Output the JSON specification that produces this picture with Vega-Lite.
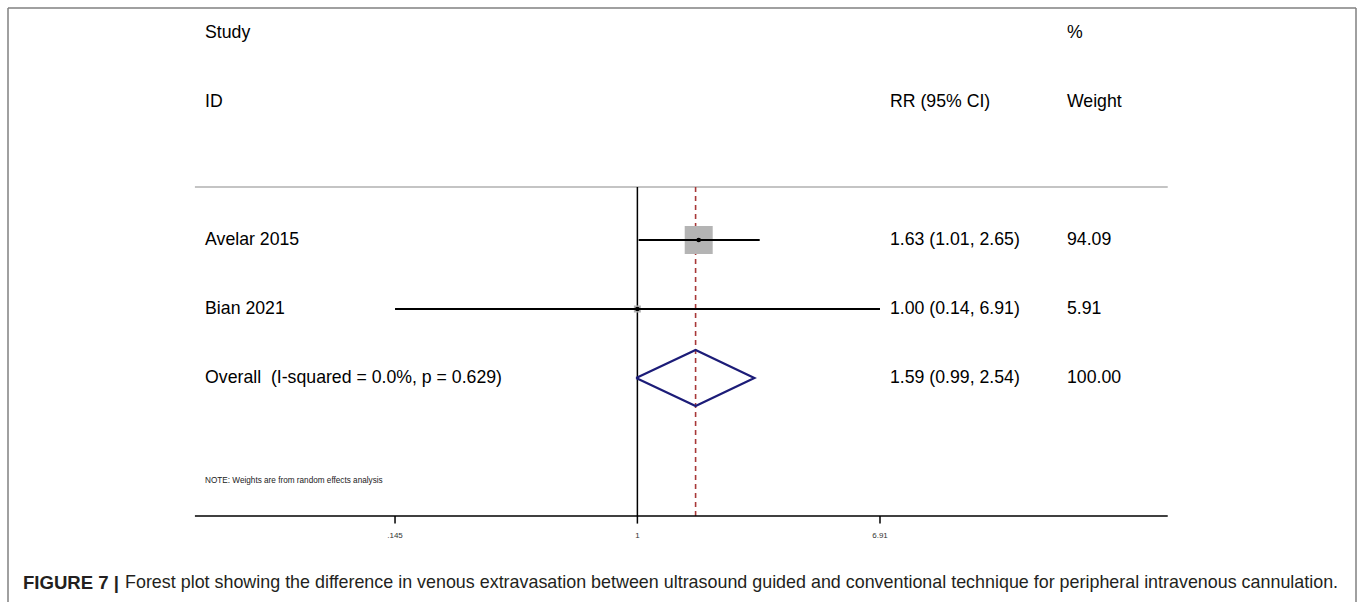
{
  "$schema": "https://vega.github.io/schema/vega-lite/v6.json",
  "width": 1348,
  "height": 594,
  "autosize": {"type": "none"},
  "padding": {"left": 8, "top": 8, "right": 2, "bottom": 0},
  "background": "white",
  "config": {"view": {"stroke": null}, "text": {"font": "Liberation Sans"}},
  "datasets": {
    "studies": [
      {"study": "Avelar 2015", "row": 1, "rr": 1.63, "lo": 1.01, "hi": 2.65, "lo_shown": 1.01, "hi_shown": 2.65, "weight": 94.09},
      {"study": "Bian 2021", "row": 2, "rr": 1.0, "lo": 0.14, "hi": 6.91, "lo_shown": 0.145, "hi_shown": 6.91, "weight": 5.91}
    ],
    "diamond": [
      {"vertex": 1, "rr": 0.99, "row": 3},
      {"vertex": 2, "rr": 1.59, "row": 2.594},
      {"vertex": 3, "rr": 2.54, "row": 3},
      {"vertex": 4, "rr": 1.59, "row": 3.406},
      {"vertex": 5, "rr": 0.99, "row": 3}
    ],
    "table": [
      {"col": "left", "row": -2, "text": "Study"},
      {"col": "left", "row": -1, "text": "ID"},
      {"col": "mid", "row": -1, "text": "RR (95% CI)"},
      {"col": "right", "row": -2, "text": "%"},
      {"col": "right", "row": -1, "text": "Weight"},
      {"col": "left", "row": 1, "text": "Avelar 2015"},
      {"col": "left", "row": 2, "text": "Bian 2021"},
      {"col": "left", "row": 3, "text": "Overall\u00a0 (I-squared = 0.0%, p = 0.629)"},
      {"col": "mid", "row": 1, "text": "1.63 (1.01, 2.65)"},
      {"col": "mid", "row": 2, "text": "1.00 (0.14, 6.91)"},
      {"col": "mid", "row": 3, "text": "1.59 (0.99, 2.54)"},
      {"col": "right", "row": 1, "text": "94.09"},
      {"col": "right", "row": 2, "text": "5.91"},
      {"col": "right", "row": 3, "text": "100.00"}
    ],
    "ticks": [
      {"value": 0.145, "label": ".145"},
      {"value": 1, "label": "1"},
      {"value": 6.91, "label": "6.91"}
    ]
  },
  "layer": [
    {
      "data": {"values": [{}]},
      "mark": {"type": "rule", "color": "#808080", "strokeWidth": 1.5},
      "encoding": {
        "x": {"datum": 0.00664, "type": "quantitative", "scale": {"type": "log", "domain": [0.00664, 306.6], "nice": false, "zero": false}, "axis": null},
        "y": {"datum": -2.3623, "type": "quantitative", "scale": {"domain": [-2.3623, 6.2464], "reverse": true, "nice": false, "zero": false}, "axis": null},
        "y2": {"datum": 6.2464}
      }
    },
    {
      "data": {"values": [{}]},
      "mark": {"type": "rule", "color": "#808080", "strokeWidth": 1.5},
      "encoding": {
        "x": {"datum": 306.6, "type": "quantitative", "scale": {"type": "log", "domain": [0.00664, 306.6], "nice": false, "zero": false}, "axis": null},
        "y": {"datum": -2.3623, "type": "quantitative", "scale": {"domain": [-2.3623, 6.2464], "reverse": true, "nice": false, "zero": false}, "axis": null},
        "y2": {"datum": 6.2464}
      }
    },
    {
      "data": {"values": [{}]},
      "mark": {"type": "rule", "color": "#808080", "strokeWidth": 1.5},
      "encoding": {
        "x": {"datum": 0.00664, "type": "quantitative", "scale": {"type": "log", "domain": [0.00664, 306.6], "nice": false, "zero": false}, "axis": null},
        "x2": {"datum": 306.6},
        "y": {"datum": -2.3623, "type": "quantitative", "scale": {"domain": [-2.3623, 6.2464], "reverse": true, "nice": false, "zero": false}, "axis": null}
      }
    },
    {
      "data": {"values": [{}]},
      "mark": {"type": "rule", "color": "#c4c4c4", "strokeWidth": 2},
      "encoding": {
        "x": {"datum": 0.02944, "type": "quantitative", "scale": {"type": "log", "domain": [0.00664, 306.6], "nice": false, "zero": false}, "axis": null},
        "x2": {"datum": 68.41},
        "y": {"datum": 0.232, "type": "quantitative", "scale": {"domain": [-2.3623, 6.2464], "reverse": true, "nice": false, "zero": false}, "axis": null}
      }
    },
    {
      "data": {"values": [{}]},
      "mark": {"type": "rule", "color": "#000000", "strokeWidth": 1.5},
      "encoding": {
        "x": {"datum": 1, "type": "quantitative", "scale": {"type": "log", "domain": [0.00664, 306.6], "nice": false, "zero": false}, "axis": null},
        "y": {"datum": 0.232, "type": "quantitative", "scale": {"domain": [-2.3623, 6.2464], "reverse": true, "nice": false, "zero": false}, "axis": null},
        "y2": {"datum": 5.0}
      }
    },
    {
      "data": {"values": [{}]},
      "mark": {"type": "rule", "color": "#a83838", "strokeWidth": 1.6, "strokeDash": [5, 4]},
      "encoding": {
        "x": {"datum": 1.59, "type": "quantitative", "scale": {"type": "log", "domain": [0.00664, 306.6], "nice": false, "zero": false}, "axis": null},
        "y": {"datum": 0.232, "type": "quantitative", "scale": {"domain": [-2.3623, 6.2464], "reverse": true, "nice": false, "zero": false}, "axis": null},
        "y2": {"datum": 5.0}
      }
    },
    {
      "data": {"name": "studies"},
      "mark": {"type": "square", "color": "#b4b4b4", "opacity": 1, "filled": true},
      "encoding": {
        "x": {"field": "rr", "type": "quantitative", "scale": {"type": "log", "domain": [0.00664, 306.6], "nice": false, "zero": false}, "axis": null},
        "y": {"field": "row", "type": "quantitative", "scale": {"domain": [-2.3623, 6.2464], "reverse": true, "nice": false, "zero": false}, "axis": null},
        "size": {"field": "weight", "type": "quantitative", "scale": {"domain": [0, 94.09], "range": [0, 784], "zero": true}, "legend": null}
      }
    },
    {
      "data": {"name": "studies"},
      "mark": {"type": "rule", "color": "#000000", "strokeWidth": 2},
      "encoding": {
        "x": {"field": "lo_shown", "type": "quantitative", "scale": {"type": "log", "domain": [0.00664, 306.6], "nice": false, "zero": false}, "axis": null},
        "x2": {"field": "hi_shown"},
        "y": {"field": "row", "type": "quantitative", "scale": {"domain": [-2.3623, 6.2464], "reverse": true, "nice": false, "zero": false}, "axis": null}
      }
    },
    {
      "data": {"name": "studies"},
      "mark": {"type": "circle", "color": "#000000", "size": 22, "opacity": 1},
      "encoding": {
        "x": {"field": "rr", "type": "quantitative", "scale": {"type": "log", "domain": [0.00664, 306.6], "nice": false, "zero": false}, "axis": null},
        "y": {"field": "row", "type": "quantitative", "scale": {"domain": [-2.3623, 6.2464], "reverse": true, "nice": false, "zero": false}, "axis": null}
      }
    },
    {
      "data": {"name": "diamond"},
      "mark": {"type": "line", "color": "#1c1c78", "strokeWidth": 2.2},
      "encoding": {
        "x": {"field": "rr", "type": "quantitative", "scale": {"type": "log", "domain": [0.00664, 306.6], "nice": false, "zero": false}, "axis": null},
        "y": {"field": "row", "type": "quantitative", "scale": {"domain": [-2.3623, 6.2464], "reverse": true, "nice": false, "zero": false}, "axis": null},
        "order": {"field": "vertex", "type": "quantitative"}
      }
    },
    {
      "data": {"name": "table"},
      "transform": [{"filter": "datum.col === 'left'"}],
      "mark": {"type": "text", "align": "left", "baseline": "middle", "fontSize": 17.7, "color": "#000000"},
      "encoding": {
        "x": {"datum": 0.03192, "type": "quantitative", "scale": {"type": "log", "domain": [0.00664, 306.6], "nice": false, "zero": false}, "axis": null},
        "y": {"field": "row", "type": "quantitative", "scale": {"domain": [-2.3623, 6.2464], "reverse": true, "nice": false, "zero": false}, "axis": null},
        "text": {"field": "text"}
      }
    },
    {
      "data": {"name": "table"},
      "transform": [{"filter": "datum.col === 'mid'"}],
      "mark": {"type": "text", "align": "left", "baseline": "middle", "fontSize": 17.7, "color": "#000000"},
      "encoding": {
        "x": {"datum": 7.483, "type": "quantitative", "scale": {"type": "log", "domain": [0.00664, 306.6], "nice": false, "zero": false}, "axis": null},
        "y": {"field": "row", "type": "quantitative", "scale": {"domain": [-2.3623, 6.2464], "reverse": true, "nice": false, "zero": false}, "axis": null},
        "text": {"field": "text"}
      }
    },
    {
      "data": {"name": "table"},
      "transform": [{"filter": "datum.col === 'right'"}],
      "mark": {"type": "text", "align": "left", "baseline": "middle", "fontSize": 17.7, "color": "#000000"},
      "encoding": {
        "x": {"datum": 30.65, "type": "quantitative", "scale": {"type": "log", "domain": [0.00664, 306.6], "nice": false, "zero": false}, "axis": null},
        "y": {"field": "row", "type": "quantitative", "scale": {"domain": [-2.3623, 6.2464], "reverse": true, "nice": false, "zero": false}, "axis": null},
        "text": {"field": "text"}
      }
    },
    {
      "data": {"values": [{"note": "NOTE: Weights are from random effects analysis"}]},
      "mark": {"type": "text", "align": "left", "baseline": "middle", "fontSize": 8.2, "color": "#222222"},
      "encoding": {
        "x": {"datum": 0.03192, "type": "quantitative", "scale": {"type": "log", "domain": [0.00664, 306.6], "nice": false, "zero": false}, "axis": null},
        "y": {"datum": 4.493, "type": "quantitative", "scale": {"domain": [-2.3623, 6.2464], "reverse": true, "nice": false, "zero": false}, "axis": null},
        "text": {"field": "note"}
      }
    },
    {
      "data": {"values": [{}]},
      "mark": {"type": "rule", "color": "#000000", "strokeWidth": 1.5},
      "encoding": {
        "x": {"datum": 0.02944, "type": "quantitative", "scale": {"type": "log", "domain": [0.00664, 306.6], "nice": false, "zero": false}, "axis": null},
        "x2": {"datum": 68.41},
        "y": {"datum": 5.0, "type": "quantitative", "scale": {"domain": [-2.3623, 6.2464], "reverse": true, "nice": false, "zero": false}, "axis": null}
      }
    },
    {
      "data": {"name": "ticks"},
      "mark": {"type": "rule", "color": "#000000", "strokeWidth": 1.5},
      "encoding": {
        "x": {"field": "value", "type": "quantitative", "scale": {"type": "log", "domain": [0.00664, 306.6], "nice": false, "zero": false}, "axis": null},
        "y": {"datum": 5.0, "type": "quantitative", "scale": {"domain": [-2.3623, 6.2464], "reverse": true, "nice": false, "zero": false}, "axis": null},
        "y2": {"datum": 5.11}
      }
    },
    {
      "data": {"name": "ticks"},
      "mark": {"type": "text", "align": "center", "baseline": "middle", "fontSize": 8, "color": "#333333"},
      "encoding": {
        "x": {"field": "value", "type": "quantitative", "scale": {"type": "log", "domain": [0.00664, 306.6], "nice": false, "zero": false}, "axis": null},
        "y": {"datum": 5.29, "type": "quantitative", "scale": {"domain": [-2.3623, 6.2464], "reverse": true, "nice": false, "zero": false}, "axis": null},
        "text": {"field": "label"}
      }
    },
    {
      "data": {"values": [{"caption": "FIGURE 7 |"}]},
      "mark": {"type": "text", "align": "left", "baseline": "middle", "fontSize": 18.6, "fontWeight": "bold", "color": "#231f20"},
      "encoding": {
        "x": {"datum": 0.00748, "type": "quantitative", "scale": {"type": "log", "domain": [0.00664, 306.6], "nice": false, "zero": false}, "axis": null},
        "y": {"datum": 5.971, "type": "quantitative", "scale": {"domain": [-2.3623, 6.2464], "reverse": true, "nice": false, "zero": false}, "axis": null},
        "text": {"field": "caption"}
      }
    },
    {
      "data": {"values": [{"caption": "Forest plot showing the difference in venous extravasation between ultrasound guided and conventional technique for peripheral intravenous cannulation."}]},
      "mark": {"type": "text", "align": "left", "baseline": "middle", "fontSize": 17.9, "color": "#231f20"},
      "encoding": {
        "x": {"datum": 0.01687, "type": "quantitative", "scale": {"type": "log", "domain": [0.00664, 306.6], "nice": false, "zero": false}, "axis": null},
        "y": {"datum": 5.971, "type": "quantitative", "scale": {"domain": [-2.3623, 6.2464], "reverse": true, "nice": false, "zero": false}, "axis": null},
        "text": {"field": "caption"}
      }
    }
  ]
}
